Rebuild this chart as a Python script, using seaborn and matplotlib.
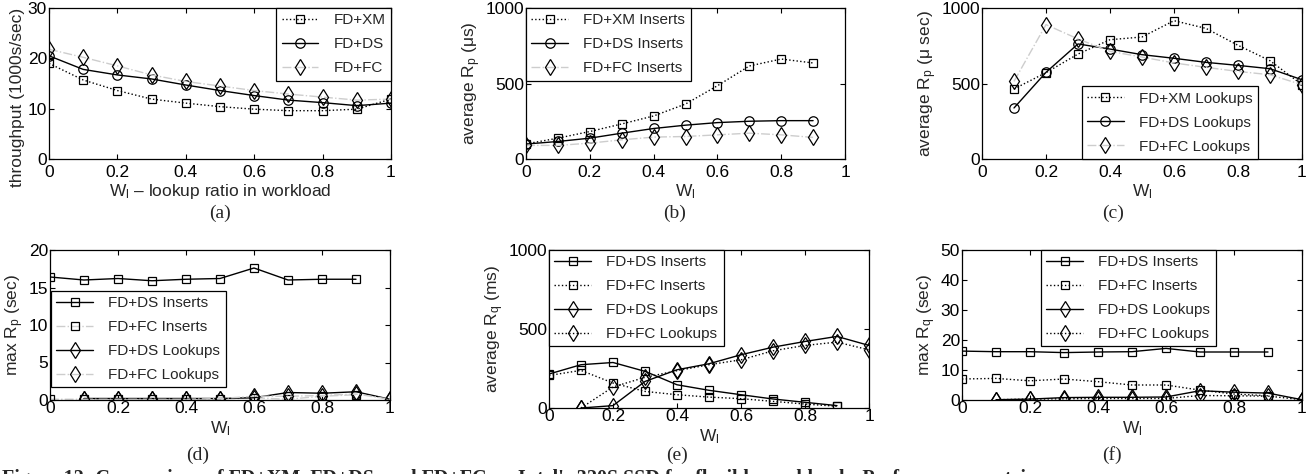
import matplotlib
matplotlib.use("Agg")
import matplotlib.pyplot as plt
import seaborn as sns

# ---------------- data ----------------
W_ALL = [0.0, 0.1, 0.2, 0.3, 0.4, 0.5, 0.6, 0.7, 0.8, 0.9, 1.0]
W_INS = [0.0, 0.1, 0.2, 0.3, 0.4, 0.5, 0.6, 0.7, 0.8, 0.9]
W_LKP = [0.1, 0.2, 0.3, 0.4, 0.5, 0.6, 0.7, 0.8, 0.9, 1.0]

# (a) throughput, 1000s of ops/sec
thr_xm = [19.0, 15.7, 13.6, 11.9, 11.1, 10.4, 9.9, 9.6, 9.6, 9.9, 11.9]
thr_ds = [20.5, 17.8, 16.7, 15.9, 14.7, 13.6, 12.6, 11.7, 11.2, 10.6, 11.1]
thr_fc = [21.8, 20.2, 18.5, 16.7, 15.4, 14.5, 13.6, 12.9, 12.3, 11.7, 11.9]

# (b) average insert Rp, microseconds
rp_ins_xm = [100, 138, 182, 232, 285, 364, 485, 616, 662, 636]
rp_ins_ds = [99, 116, 138, 171, 202, 224, 241, 250, 254, 254]
rp_ins_fc = [90, 90, 105, 127, 145, 149, 160, 171, 160, 143]

# (c) average lookup Rp, microseconds
rp_lkp_xm = [464, 572, 695, 790, 808, 916, 865, 753, 651, 492]
rp_lkp_ds = [338, 574, 762, 728, 691, 667, 640, 620, 598, 525]
rp_lkp_fc = [514, 890, 795, 713, 675, 636, 607, 580, 558, 492]

# (d) max Rp, seconds
maxrp_ins_ds = [16.4, 16.0, 16.2, 15.9, 16.1, 16.2, 17.6, 16.0, 16.1, 16.1]
maxrp_ins_fc = [0.1, 0.1, 0.1, 0.1, 0.1, 0.1, 0.3, 0.1, 0.5, 0.7]
maxrp_lkp_ds = [0.2, 0.2, 0.2, 0.2, 0.2, 0.3, 1.0, 0.9, 1.1, 0.1]
maxrp_lkp_fc = [0.1, 0.1, 0.1, 0.1, 0.2, 0.5, 0.5, 0.6, 0.8, 0.1]

# (e) average Rq, milliseconds
rq_ins_ds = [215, 274, 288, 232, 147, 112, 84, 57, 36, 15]
rq_ins_fc = [206, 238, 158, 105, 84, 69, 59, 42, 25, 11]
rq_lkp_ds = [0, 15, 168, 242, 280, 337, 385, 421, 453, 396]
rq_lkp_fc = [0, 133, 194, 236, 274, 305, 362, 396, 417, 368]

# (f) max Rq, seconds
maxrq_ins_ds = [16.3, 16.1, 16.1, 15.8, 16.0, 16.1, 17.2, 16.0, 16.0, 16.0]
maxrq_ins_fc = [7.0, 7.2, 6.4, 7.0, 6.1, 5.0, 5.0, 3.3, 2.0, 1.4]
maxrq_lkp_ds = [0.1, 0.3, 0.8, 0.9, 0.9, 1.0, 3.1, 2.6, 2.3, 0.1]
maxrq_lkp_fc = [0.1, 0.3, 0.4, 0.5, 0.5, 0.5, 1.5, 1.4, 1.3, 0.1]

CAPTION = ("Figure 12: Comparison of FD+XM, FD+DS, and FD+FC on Intel's 320S SSD "
           "for flexible workloads. Performance metrics are")
PANEL_TAGS = ["(a)", "(b)", "(c)", "(d)", "(e)", "(f)"]

# ---------------- style ----------------
sns.set_style("ticks")
plt.rcParams.update({
    "font.family": ["Liberation Sans", "DejaVu Sans"],
    "mathtext.fontset": "custom",
    "mathtext.rm": "Liberation Sans",
    "mathtext.it": "Liberation Sans:italic",
    "axes.edgecolor": "black",
    "axes.linewidth": 0.9,
    "xtick.direction": "in",
    "ytick.direction": "in",
    "xtick.top": True,
    "ytick.right": True,
    "xtick.major.size": 3.5,
    "ytick.major.size": 3.5,
    "xtick.color": "black",
    "ytick.color": "black",
    "xtick.labelsize": 12.5,
    "ytick.labelsize": 12.5,
    "axes.labelsize": 12.5,
    "legend.fontsize": 11,
})

W, H = 1315, 474
fig = plt.figure(figsize=(W / 100, H / 100), dpi=100)
fig.patch.set_facecolor("white")


def px_axes(l, t, r, b):
    return fig.add_axes([l / W, 1 - b / H, (r - l) / W, (b - t) / H])


GRAY = "#cdcdcd"
SQ, CI, DI = 5.2, 6.8, 8.0


def draw(ax, x, y, label, marker, ls, color, ms):
    sns.lineplot(x=x, y=y, ax=ax, label=label, marker=marker, linestyle=ls,
                 color=color, linewidth=1.0, markersize=ms,
                 markerfacecolor="none", markeredgecolor="black",
                 markeredgewidth=0.9)


def finish(ax, ylim, yticks, ylabel, xlabel, pad):
    ax.set_xlim(0, 1)
    ax.set_ylim(*ylim)
    ax.set_xticks([0, 0.2, 0.4, 0.6, 0.8, 1])
    ax.set_xticklabels(["0", "0.2", "0.4", "0.6", "0.8", "1"])
    ax.set_yticks(yticks)
    ax.tick_params(axis="x", pad=pad)
    ax.tick_params(axis="y", pad=1.5)
    ax.set_ylabel(ylabel, labelpad=2)
    ax.set_xlabel(xlabel, labelpad=2)
    for s in ax.spines.values():
        s.set_visible(True)
        s.set_color("black")


def legend(ax, loc, anchor):
    lg = ax.legend(loc=loc, bbox_to_anchor=anchor, frameon=True, fancybox=False,
                   framealpha=1, edgecolor="black", borderaxespad=0,
                   handlelength=2.4, handletextpad=1.0, labelspacing=0.65,
                   borderpad=0.35)
    lg.get_frame().set_linewidth(0.9)


WL = r"W$_{\mathrm{l}}$"
MU = "\u03bc"

# (a)
ax = px_axes(49, 8, 391, 159)
draw(ax, W_ALL, thr_xm, "FD+XM", "s", ":", "black", SQ)
draw(ax, W_ALL, thr_ds, "FD+DS", "o", "-", "black", CI)
draw(ax, W_ALL, thr_fc, "FD+FC", "d", "-.", GRAY, DI)
finish(ax, (0, 30), [0, 10, 20, 30], "throughput (1000s/sec)",
       WL + " \u2013 lookup ratio in workload", 4)
ax.yaxis.label.set_y(0.41)
legend(ax, "upper right", (1, 1))

# (b)
ax = px_axes(526, 8, 845, 159)
draw(ax, W_INS, rp_ins_xm, "FD+XM Inserts", "s", ":", "black", SQ)
draw(ax, W_INS, rp_ins_ds, "FD+DS Inserts", "o", "-", "black", CI)
draw(ax, W_INS, rp_ins_fc, "FD+FC Inserts", "d", "-.", GRAY, DI)
finish(ax, (0, 1000), [0, 500, 1000], r"average R$_{\mathrm{p}}$ (" + MU + "s)", WL, 4)
legend(ax, "upper left", (0, 1))

# (c)
ax = px_axes(982, 8, 1302, 159)
draw(ax, W_LKP, rp_lkp_xm, "FD+XM Lookups", "s", ":", "black", SQ)
draw(ax, W_LKP, rp_lkp_ds, "FD+DS Lookups", "o", "-", "black", CI)
draw(ax, W_LKP, rp_lkp_fc, "FD+FC Lookups", "d", "-.", GRAY, DI)
finish(ax, (0, 1000), [0, 500, 1000], r"average R$_{\mathrm{p}}$ (" + MU + " sec)", WL, 4)
legend(ax, "lower right", ((1258 - 982) / 320, 0))

# (d)
ax = px_axes(50, 250, 390, 400)
draw(ax, W_INS, maxrp_ins_ds, "FD+DS Inserts", "s", "-", "black", SQ)
draw(ax, W_INS, maxrp_ins_fc, "FD+FC Inserts", "s", "-.", GRAY, SQ)
draw(ax, W_LKP, maxrp_lkp_ds, "FD+DS Lookups", "d", "-", "black", DI)
draw(ax, W_LKP, maxrp_lkp_fc, "FD+FC Lookups", "d", "-.", GRAY, DI)
finish(ax, (0, 20), [0, 5, 10, 15, 20], r"max R$_{\mathrm{p}}$ (sec)", WL, 1)
legend(ax, "upper left", (0.003, (400 - 291) / 150))

# (e)
ax = px_axes(549, 250, 869, 408)
draw(ax, W_INS, rq_ins_ds, "FD+DS Inserts", "s", "-", "black", SQ)
draw(ax, W_INS, rq_ins_fc, "FD+FC Inserts", "s", ":", "black", SQ)
draw(ax, W_LKP, rq_lkp_ds, "FD+DS Lookups", "d", "-", "black", DI)
draw(ax, W_LKP, rq_lkp_fc, "FD+FC Lookups", "d", ":", "black", DI)
finish(ax, (0, 1000), [0, 500, 1000], r"average R$_{\mathrm{q}}$ (ms)", WL, 1)
legend(ax, "upper left", (0, 1))

# (f)
ax = px_axes(962, 250, 1302, 400)
draw(ax, W_INS, maxrq_ins_ds, "FD+DS Inserts", "s", "-", "black", SQ)
draw(ax, W_INS, maxrq_ins_fc, "FD+FC Inserts", "s", ":", "black", SQ)
draw(ax, W_LKP, maxrq_lkp_ds, "FD+DS Lookups", "d", "-", "black", DI)
draw(ax, W_LKP, maxrq_lkp_fc, "FD+FC Lookups", "d", ":", "black", DI)
finish(ax, (0, 50), [0, 10, 20, 30, 40, 50], r"max R$_{\mathrm{q}}$ (sec)", WL, 1)
legend(ax, "upper left", ((1041 - 962) / 340, 1))

# panel tags and figure caption
tag_pos = [(220, 213), (675, 213), (1113, 213), (198, 455), (677, 455), (1112, 455)]
for tag, (x, y) in zip(PANEL_TAGS, tag_pos):
    fig.text(x / W, 1 - y / H, tag, ha="center", va="center",
             family=["Liberation Serif", "DejaVu Serif"], fontsize=14)
fig.text(2 / W, -10 / H, CAPTION, ha="left", va="baseline",
         family=["Liberation Serif", "DejaVu Serif"], fontweight="bold",
         fontsize=14.5)

fig.savefig("out.png", dpi=100, facecolor="white")
